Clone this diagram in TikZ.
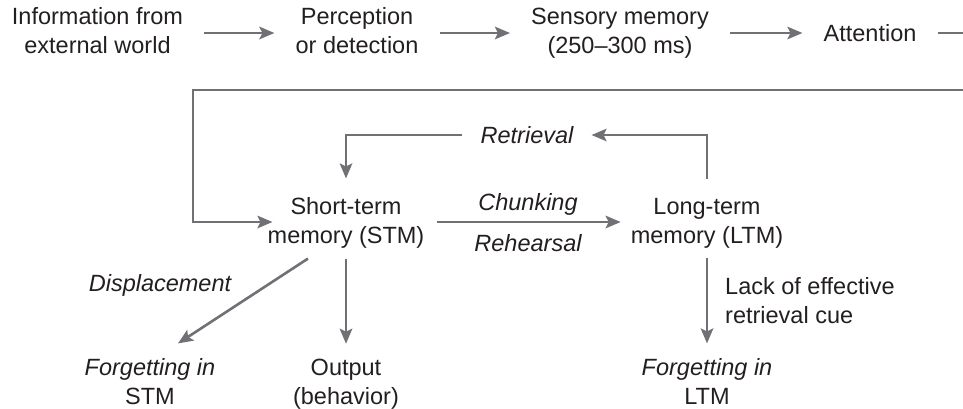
\documentclass[tikz,border=0pt]{standalone}
\usepackage{fontspec}
\setmainfont{Liberation Sans}
\usetikzlibrary{arrows.meta}
\definecolor{ink}{RGB}{35,31,32}
\definecolor{wire}{RGB}{112,112,117}
\begin{document}
\begin{tikzpicture}[x=1pt,y=-1pt,
  lbl/.style={font=\fontsize{23.5}{29}\selectfont, text=ink, align=center, inner sep=0pt,
              execute at begin node=\strut, execute at end node=\strut},
  rowone/.style={lbl, inner xsep=21pt},
  itl/.style={lbl, font=\fontsize{23.5}{29}\selectfont\itshape},
  arr/.style={draw=wire, line width=2.6pt, -{Stealth[length=15pt,width=12.5pt,inset=3pt]}},
  wireline/.style={draw=wire, line width=2.6pt}]
\useasboundingbox (0,0) rectangle (963,408);

% top row
\node[rowone] (info) at (97.5,35) {Information from\\external world};
\node[rowone] (perc) at (357,35) {Perception\\or detection};
\node[rowone] (sens) at (620,35) {Sensory memory\\(250\textendash300 ms)};
\node[rowone] (att)  at (870,36) {Attention};
\coordinate (rone) at (963,33);
\coordinate (rtwo) at (963,90);
\coordinate (cone) at (193,90);

\draw[arr] ([yshift=2pt]info.east) -- ([yshift=2pt]perc.west);
\draw[arr] ([yshift=2pt]perc.east) -- ([yshift=2pt]sens.west);
\draw[arr] ([yshift=2pt]sens.east) -- ([yshift=2pt]sens.east -| att.west);
\draw[wireline] ([yshift=3pt]att.east) -- (rone);

% memory stores
\node[lbl] (stm) at (346,225) {Short-term\\memory (STM)};
\node[lbl] (ltm) at (707,225) {Long-term\\memory (LTM)};
\node[itl, inner xsep=18pt] (retr) at (527,138) {Retrieval};
\node[itl] (chunk) at (528,205) {Chunking};
\node[itl] (rehe) at (528,246) {Rehearsal};
\coordinate (rE) at ([yshift=3pt]retr.east);
\coordinate (rW) at ([yshift=3pt]retr.west);

\draw[arr, shorten >=-5pt] (rtwo) -- (cone) |- ([yshift=3pt]stm.west);
\draw[arr, shorten <=12pt, shorten >=10pt] ([yshift=3pt]stm.east) -- ([yshift=3pt]ltm.west);
\draw[arr, shorten <=19pt] (ltm.north) -- (ltm.north |- rE) -- (rE);
\draw[arr, shorten >=19pt] (rW) -- (stm.north |- rW) -- (stm.north);

% bottom
\node[itl] (disp) at (160,286) {Displacement};
\node[lbl] (fstm) at (150,386) {\itshape Forgetting in\\STM};
\node[lbl] (out)  at (346,386) {Output\\(behavior)};
\node[lbl] (fltm) at (707,386) {\itshape Forgetting in\\LTM};
\node[lbl, align=left, anchor=west] (lack) at (725,305) {Lack of effective\\retrieval cue};

\draw[arr] ([xshift=-38pt,yshift=-6pt]stm.south) -- ([xshift=28pt,yshift=15pt]fstm.north);
\draw[arr, shorten <=6pt, shorten >=15pt] (stm.south) -- (out.north);
\draw[arr, shorten <=6pt, shorten >=15pt] (ltm.south) -- (fltm.north);
\end{tikzpicture}
\end{document}
